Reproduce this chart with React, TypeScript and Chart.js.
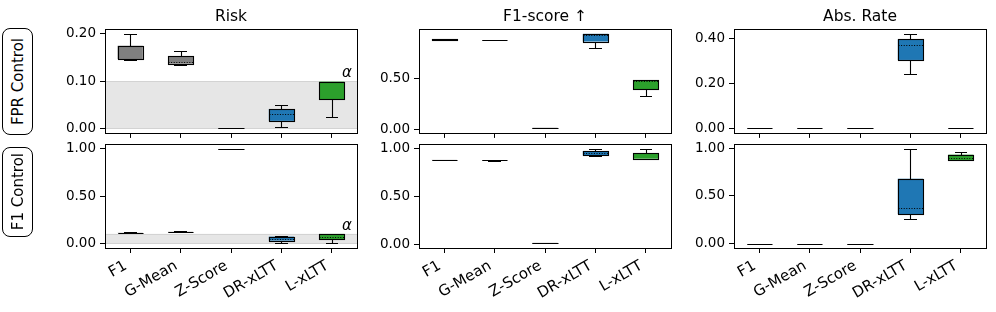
import React, { useEffect, useRef } from "react";
import { Chart, registerables } from "chart.js";

Chart.register(...registerables);

// ---------------- data ----------------
const METHODS = ["F1", "G-Mean", "Z-Score", "DR-xLTT", "L-xLTT"];
const COLORS = ["#808080", "#808080", "#808080", "#1f77b4", "#2ca02c"];
const METRICS = ["Risk", "F1-score ↑", "Abs. Rate"];
const CONTROLS = ["FPR Control", "F1 Control"];
const ALPHA = 0.1;

// each entry: [whisker low, q1, median, q3, whisker high]
const riskFpr = [
  [0.145, 0.147, 0.147, 0.175, 0.2],
  [0.134, 0.137, 0.141, 0.153, 0.164],
  [0, 0, 0, 0, 0],
  [0.002, 0.016, 0.03, 0.041, 0.05],
  [0.025, 0.062, 0.099, 0.099, 0.099],
];
const f1Fpr = [
  [0.888, 0.889, 0.89, 0.891, 0.892],
  [0.881, 0.882, 0.883, 0.884, 0.885],
  [0.012, 0.014, 0.016, 0.018, 0.02],
  [0.81, 0.87, 0.936, 0.946, 0.948],
  [0.327, 0.4, 0.482, 0.486, 0.486],
];
const absFpr = [
  [0, 0, 0, 0, 0],
  [0, 0, 0, 0, 0],
  [0, 0, 0, 0, 0],
  [0.242, 0.306, 0.371, 0.398, 0.424],
  [0, 0, 0, 0, 0],
];
const riskF1 = [
  [0.11, 0.111, 0.112, 0.113, 0.114],
  [0.121, 0.122, 0.123, 0.124, 0.125],
  [0.994, 0.995, 0.996, 0.997, 0.998],
  [0.0, 0.028, 0.045, 0.07, 0.075],
  [0.0, 0.042, 0.07, 0.099, 0.1],
];
const f1F1 = [
  [0.88, 0.881, 0.882, 0.883, 0.884],
  [0.876, 0.877, 0.879, 0.88, 0.881],
  [0.012, 0.013, 0.014, 0.015, 0.016],
  [0.92, 0.93, 0.955, 0.976, 1.0],
  [0.895, 0.895, 0.895, 0.952, 1.0],
];
const absF1 = [
  [0, 0, 0, 0, 0],
  [0, 0, 0, 0, 0],
  [0, 0, 0, 0, 0],
  [0.255, 0.31, 0.37, 0.68, 0.99],
  [0.878, 0.878, 0.9, 0.934, 0.961],
];

const riskFprTicks = [0, 0.1, 0.2];
const f1FprTicks = [0, 0.5];
const absFprTicks = [0, 0.2, 0.4];
const riskF1Ticks = [0, 0.5, 1];
const f1F1Ticks = [0, 0.5, 1];
const absF1Ticks = [0, 0.5, 1];

const riskFprRange = [-0.0095, 0.2105];
const f1FprRange = [-0.033, 0.994];
const absFprRange = [-0.0205, 0.4445];
const riskF1Range = [-0.05, 1.05];
const f1F1Range = [-0.039, 1.049];
const absF1Range = [-0.047, 1.046];

// ---------------- layout ----------------
const FONT = "'DejaVu Sans', sans-serif";
const COL_LEFT = [105, 419, 734];
const ROW_TOP = [29, 144];
const PLOT_W = 252;
const PLOT_H = 104;
const Y_AXIS_W = 60;
const PAD_TOP = 29;
const PAD_RIGHT = 8;
const X_AXIS_H = [12, 72];
const X_LABEL_SIZE = 15;
const X_LABEL_ROT = (30 * Math.PI) / 180;

type Stats = number[][];

interface PanelProps {
  stats: Stats;
  ticks: number[];
  range: number[];
  title: string | null;
  showLabels: boolean;
  shade: boolean;
  row: number;
  col: number;
}

function Panel({ stats, ticks, range, title, showLabels, shade, row, col }: PanelProps) {
  const ref = useRef<HTMLCanvasElement | null>(null);
  const width = Y_AXIS_W + PLOT_W + PAD_RIGHT;
  const height = PAD_TOP + PLOT_H + X_AXIS_H[row];

  useEffect(() => {
    if (!ref.current) return;
    const px = (v: number) => Math.round(v) + 0.5;

    const boxPlugin = {
      id: "boxplot" + row + col,
      beforeDatasetsDraw(chart: any) {
        if (!shade) return;
        const { ctx, chartArea: a, scales } = chart;
        const y = scales.y;
        const y0 = y.getPixelForValue(0);
        const y1 = y.getPixelForValue(ALPHA);
        ctx.save();
        ctx.fillStyle = "#e6e6e6";
        ctx.fillRect(a.left, y1, a.right - a.left, y0 - y1);
        ctx.strokeStyle = "#d3d3d3";
        ctx.lineWidth = 1;
        ctx.beginPath();
        ctx.moveTo(a.left, px(y0));
        ctx.lineTo(a.right, px(y0));
        ctx.moveTo(a.left, px(y1));
        ctx.lineTo(a.right, px(y1));
        ctx.stroke();
        ctx.restore();
      },
      afterDatasetsDraw(chart: any) {
        const { ctx, scales } = chart;
        const y = scales.y;
        const meta = chart.getDatasetMeta(0);
        ctx.save();
        ctx.strokeStyle = "#000";
        stats.forEach((s, i) => {
          const el = meta.data[i];
          const x = el.x;
          const w = el.width;
          const [lo, q1, med, q3, hi] = s.map((v) => y.getPixelForValue(v));
          const xc = px(x);
          ctx.setLineDash([]);
          ctx.lineWidth = 1.1;
          ctx.beginPath();
          ctx.moveTo(xc, px(q1));
          ctx.lineTo(xc, px(lo));
          ctx.moveTo(xc, px(q3));
          ctx.lineTo(xc, px(hi));
          ctx.moveTo(Math.round(x - w / 4), px(lo));
          ctx.lineTo(Math.round(x + w / 4), px(lo));
          ctx.moveTo(Math.round(x - w / 4), px(hi));
          ctx.lineTo(Math.round(x + w / 4), px(hi));
          ctx.stroke();
          const bl = px(x - w / 2);
          const br = px(x + w / 2);
          ctx.strokeRect(bl, px(q3), br - bl, px(q1) - px(q3));
          ctx.setLineDash([1, 1.6]);
          ctx.beginPath();
          ctx.moveTo(bl, px(med));
          ctx.lineTo(br, px(med));
          ctx.stroke();
        });
        ctx.restore();
      },
      afterDraw(chart: any) {
        const { ctx, chartArea: a, scales } = chart;
        ctx.save();
        ctx.strokeStyle = "#000";
        ctx.lineWidth = 1;
        ctx.setLineDash([]);
        ctx.strokeRect(px(a.left), px(a.top), Math.round(a.right - a.left), Math.round(a.bottom - a.top));
        ctx.fillStyle = "#000";
        if (title) {
          ctx.font = `15.5px ${FONT}`;
          ctx.textAlign = "center";
          ctx.textBaseline = "alphabetic";
          ctx.fillText(title, (a.left + a.right) / 2, a.top - 8);
        }
        if (shade) {
          const yA = scales.y.getPixelForValue(ALPHA);
          ctx.font = `italic 15px ${FONT}`;
          ctx.textAlign = "center";
          ctx.textBaseline = "alphabetic";
          ctx.fillText("α", a.right - 10, yA - 4);
        }
        if (showLabels) {
          // rotated category labels, anchored like matplotlib (ha=right, va=top)
          const xs = scales.x;
          ctx.font = `${X_LABEL_SIZE}px ${FONT}`;
          ctx.textAlign = "center";
          ctx.textBaseline = "middle";
          const h = X_LABEL_SIZE * 1.16;
          const top = a.bottom + 9.3;
          METHODS.forEach((lab, i) => {
            const tx = xs.getPixelForTick(i);
            const L = ctx.measureText(lab).width;
            const bw = L * Math.cos(X_LABEL_ROT) + h * Math.sin(X_LABEL_ROT);
            const bh = L * Math.sin(X_LABEL_ROT) + h * Math.cos(X_LABEL_ROT);
            ctx.save();
            ctx.translate(tx - bw / 2, top + bh / 2);
            ctx.rotate(-X_LABEL_ROT);
            ctx.fillText(lab, 0, 0);
            ctx.restore();
          });
        }
        ctx.restore();
      },
    };

    const tickFont = { family: FONT, size: 13.5 };
    const chart = new Chart(ref.current, {
      type: "bar",
      data: {
        labels: METHODS,
        datasets: [
          {
            data: stats.map((s) => [s[1], s[3]]) as any,
            backgroundColor: COLORS,
            borderWidth: 0,
            barPercentage: 0.5,
            categoryPercentage: 1,
          },
        ],
      },
      options: {
        animation: false,
        responsive: false,
        maintainAspectRatio: false,
        devicePixelRatio: 1,
        layout: { padding: { top: PAD_TOP, right: PAD_RIGHT, left: 0, bottom: 0 } },
        plugins: {
          legend: { display: false },
          tooltip: { enabled: false },
          title: { display: false },
        },
        scales: {
          x: {
            type: "category",
            offset: true,
            grid: {
              offset: false,
              drawOnChartArea: false,
              drawTicks: true,
              tickLength: 5,
              color: "#000",
              tickWidth: 1,
            },
            border: { display: false },
            ticks: { display: false },
            afterFit: (s: any) => {
              s.height = X_AXIS_H[row];
            },
          },
          y: {
            type: "linear",
            min: range[0],
            max: range[1],
            grid: {
              drawOnChartArea: false,
              drawTicks: true,
              tickLength: 5,
              color: "#000",
              tickWidth: 1,
            },
            border: { display: false },
            ticks: {
              color: "#000",
              font: tickFont,
              padding: 4,
              callback: (v: any) => Number(v).toFixed(2),
            },
            afterBuildTicks: (s: any) => {
              s.ticks = ticks.map((v) => ({ value: v }));
            },
            afterFit: (s: any) => {
              s.width = Y_AXIS_W;
            },
          },
        },
      } as any,
      plugins: [boxPlugin],
    });
    return () => chart.destroy();
  }, [stats, ticks, range, title, showLabels, shade, row, col]);

  return (
    <canvas
      ref={ref}
      width={width}
      height={height}
      style={{
        position: "absolute",
        left: COL_LEFT[col] - Y_AXIS_W,
        top: ROW_TOP[row] - PAD_TOP,
        width,
        height,
      }}
    />
  );
}

const PANELS = [
  { stats: riskFpr, ticks: riskFprTicks, range: riskFprRange, row: 0, col: 0, shade: true },
  { stats: f1Fpr, ticks: f1FprTicks, range: f1FprRange, row: 0, col: 1, shade: false },
  { stats: absFpr, ticks: absFprTicks, range: absFprRange, row: 0, col: 2, shade: false },
  { stats: riskF1, ticks: riskF1Ticks, range: riskF1Range, row: 1, col: 0, shade: true },
  { stats: f1F1, ticks: f1F1Ticks, range: f1F1Range, row: 1, col: 1, shade: false },
  { stats: absF1, ticks: absF1Ticks, range: absF1Range, row: 1, col: 2, shade: false },
];

const ROW_BOX = [
  { top: 28, height: 107 },
  { top: 147, height: 90 },
];

export default function App() {
  return (
    <div
      style={{
        position: "fixed",
        left: 0,
        top: 0,
        width: 996,
        height: 312,
        background: "#fff",
        overflow: "hidden",
      }}
    >
      {PANELS.map((p, i) => (
        <Panel
          key={i}
          stats={p.stats}
          ticks={p.ticks}
          range={p.range}
          title={p.row === 0 ? METRICS[p.col] : null}
          showLabels={p.row === 1}
          shade={p.shade}
          row={p.row}
          col={p.col}
        />
      ))}
      {CONTROLS.map((c, i) => (
        <div
          key={c}
          style={{
            position: "absolute",
            left: 2,
            top: ROW_BOX[i].top,
            width: 31,
            height: ROW_BOX[i].height,
            border: "1px solid #000",
            borderRadius: 8,
            display: "flex",
            alignItems: "center",
            justifyContent: "center",
            fontFamily: FONT,
            fontSize: 15,
            color: "#000",
            boxSizing: "border-box",
          }}
        >
          <span style={{ writingMode: "vertical-rl", transform: "rotate(180deg)", whiteSpace: "nowrap" }}>
            {c}
          </span>
        </div>
      ))}
    </div>
  );
}
